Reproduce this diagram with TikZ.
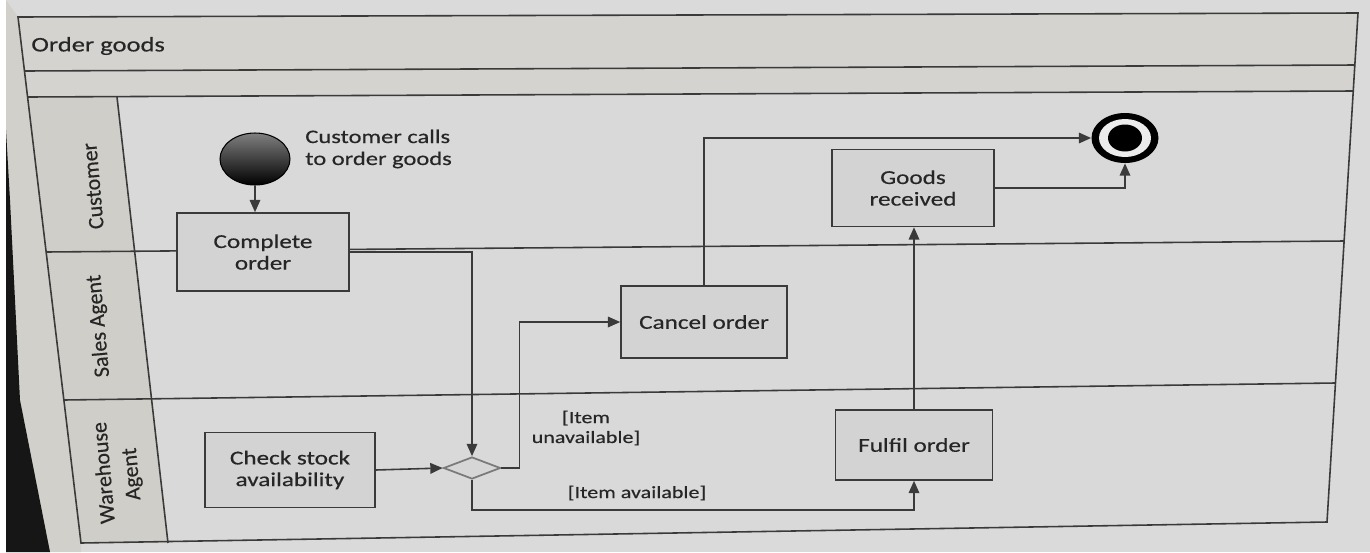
\documentclass[tikz,border=0pt]{standalone}
\usepackage{fontspec}
\setmainfont{Carlito}[FakeBold=0.35]
\newfontfamily\wfont{Carlito}[FakeStretch=1.28,FakeBold=0.45]
\usetikzlibrary{arrows.meta,shapes.geometric}
\definecolor{ink}{HTML}{3A3A3A}
\definecolor{txt}{HTML}{262626}
\definecolor{paper}{HTML}{DADADA}
\definecolor{content}{HTML}{D9D9D9}
\definecolor{headfill}{HTML}{D4D3D0}
\definecolor{colfill}{HTML}{D0CEC9}
\definecolor{margin}{HTML}{D2D0CB}
\definecolor{boxfill}{HTML}{D3D3D3}
\definecolor{bezel}{HTML}{161616}
\definecolor{decfill}{HTML}{D6D6D6}
\definecolor{decline}{HTML}{7A7A7A}
\begin{document}
\begin{tikzpicture}[x=0.02cm,y=-0.02cm,
  frameline/.style={draw=ink,line width=0.9pt},
  act/.style={draw=ink,line width=0.9pt,fill=boxfill,text=txt,align=center,inner sep=0pt,
    font=\wfont\fontsize{11.2}{12.3}\selectfont},
  flow/.style={draw=ink,line width=0.9pt,-{Triangle[length=7pt,width=6pt]}},
  guard/.style={text=txt,align=center,inner sep=0pt,font=\wfont\fontsize{9.8}{11.3}\selectfont},
  note/.style={text=txt,align=left,inner sep=0pt,font=\wfont\fontsize{10.9}{12.5}\selectfont},
  lanelabel/.style={text=txt,align=center,inner sep=0pt,font=\fontsize{12.5}{14}\selectfont,rotate=95}]
\useasboundingbox (0,0) rectangle (1370,552);
% background
\fill[paper] (0,0) rectangle (1370,552);
\fill[margin] (6,0) -- (18,17) -- (81,543) -- (81,552) -- (6,552) -- cycle;
\fill[white] (0,0) rectangle (6,552);
\fill[bezel] (6,130) -- (10,200) -- (20,400) -- (50,552) -- (6,552) -- cycle;
% frame fills
\fill[content] (18,17) -- (1358,13) -- (1327,522) -- (81,543) -- cycle;
\fill[headfill] (18,17) -- (1358,13) -- (1353,91) -- (27.6,97) -- cycle;
\fill[colfill] (27.6,97) -- (117,97) -- (168,543) -- (81,543) -- cycle;
% frame lines
\draw[frameline] (18,17) -- (1358,13) -- (1327,522) -- (81,543) -- cycle;
\draw[frameline] (24.5,71) -- (1355,65);
\draw[frameline] (27.6,97) -- (1353,91);
\draw[frameline] (46,252) -- (1344,241);
\draw[frameline] (64,400) -- (1335,383);
\draw[frameline] (117,97) -- (168,543);
% titles
\node[anchor=west,text=txt,inner sep=0pt,font=\wfont\fontsize{11.8}{13}\selectfont] (title) at (31,46) {Order goods};
\node[lanelabel] (lcust) at (93,186) {Customer};
\node[lanelabel] (lsales) at (99,326) {Sales Agent};
\node[lanelabel] (lware) at (103,473) {Warehouse};
\node[lanelabel] (lagent) at (133,474) {Agent};
% nodes
\node[ellipse,draw=black,line width=0.6pt,top color=black!50,bottom color=black,
  minimum width=1.4cm,minimum height=1.04cm,inner sep=0pt] (start) at (255,159) {};
\node[note,anchor=west] (callnote) at (305,149) {Customer calls\\to order goods};
\node[act,minimum width=3.44cm,minimum height=1.56cm] (complete) at (263,252) {Complete\\order};
\node[act,minimum width=3.4cm,minimum height=1.5cm] (check) at (290,470) {Check stock\\availability};
\node[diamond,draw=decline,fill=decfill,line width=1pt,minimum width=1.14cm,minimum height=0.44cm,inner sep=0pt] (dec) at (472,468) {};
\node[act,minimum width=3.32cm,minimum height=1.44cm] (cancel) at (704,322) {Cancel order};
\node[act,minimum width=3.24cm,minimum height=1.54cm] (goods) at (913,188) {Goods\\received};
\node[act,minimum width=3.14cm,minimum height=1.4cm] (fulfil) at (914,445) {Fulfil order};
\node[ellipse,fill=black,minimum width=1.34cm,minimum height=1.0cm,inner sep=0pt] (end) at (1125,138) {};
\node[ellipse,fill=white!85!gray,minimum width=1.04cm,minimum height=0.76cm,inner sep=0pt] (endgap) at (end.center) {};
\node[ellipse,fill=black,minimum width=0.68cm,minimum height=0.54cm,inner sep=0pt] (enddot) at (end.center) {};
% guards
\node[guard] (gunav) at (586,428) {[Item\\unavailable]};
\node[guard] (gav) at (637,493) {[Item available]};
% connectors
\draw[flow] (start.south) -- (start.south |- complete.north);
\draw[flow] (complete.east) -| (dec.north);
\draw[flow] (check.east) -- (dec.west);
\draw[flow] (dec.east) -- ++(18,0) |- (cancel.west);
\draw[flow] (dec.south) -- ++(0,30) -| (fulfil.south);
\draw[flow] (fulfil.north) -- (fulfil.north |- goods.south);
\draw[flow] (cancel.north) |- (end.west);
\draw[flow] (goods.east) -| (end.south);
\end{tikzpicture}
\end{document}
